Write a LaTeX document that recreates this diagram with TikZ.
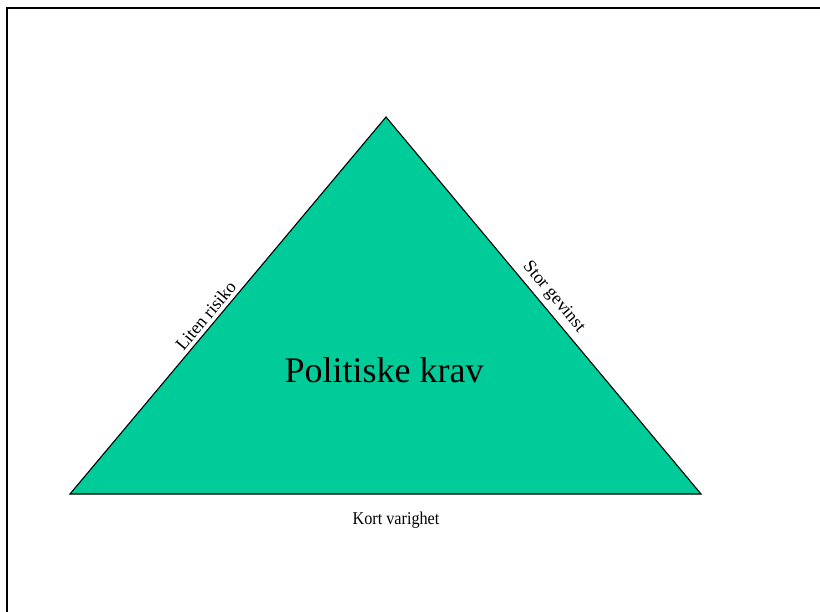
\documentclass[tikz,border=0pt]{standalone}
\usepackage{fontspec}
\setmainfont{Liberation Serif}
\usepackage{xcolor}
\definecolor{kravgreen}{RGB}{0,204,153}

\begin{document}
\begin{tikzpicture}[x=1pt,y=-1pt,
    edgelabel/.style={font=\fontsize{18}{20}\selectfont, inner sep=1pt}]
    \useasboundingbox (0,0) rectangle (820,612);
    % frame (only the left and top sides fall inside the picture)
    \draw[line width=2pt] (7,640) -- (7,8) -- (840,8);

    % triangle
    \coordinate (apex) at (386,117);
    \coordinate (left) at (70,494);
    \coordinate (right) at (701,494);
    \filldraw[fill=kravgreen, draw=black, line width=1.1pt, line join=miter]
        (left) -- (apex) -- (right) -- cycle;

    % side labels
    \path (left) -- (apex)
        node[edgelabel, sloped, above, pos=0.455, inner sep=4pt] (risiko) {Liten risiko};
    \path (apex) -- (right)
        node[edgelabel, sloped, above, pos=0.5, inner sep=5pt] (gevinst) {Stor gevinst};
    \node[font=\fontsize{18}{20}\selectfont, xscale=0.9] (varighet) at (396,520) {Kort varighet};

    % centre text
    \node[font=\fontsize{36}{40}\selectfont] (krav) at (384,370) {Politiske krav};
\end{tikzpicture}
\end{document}
